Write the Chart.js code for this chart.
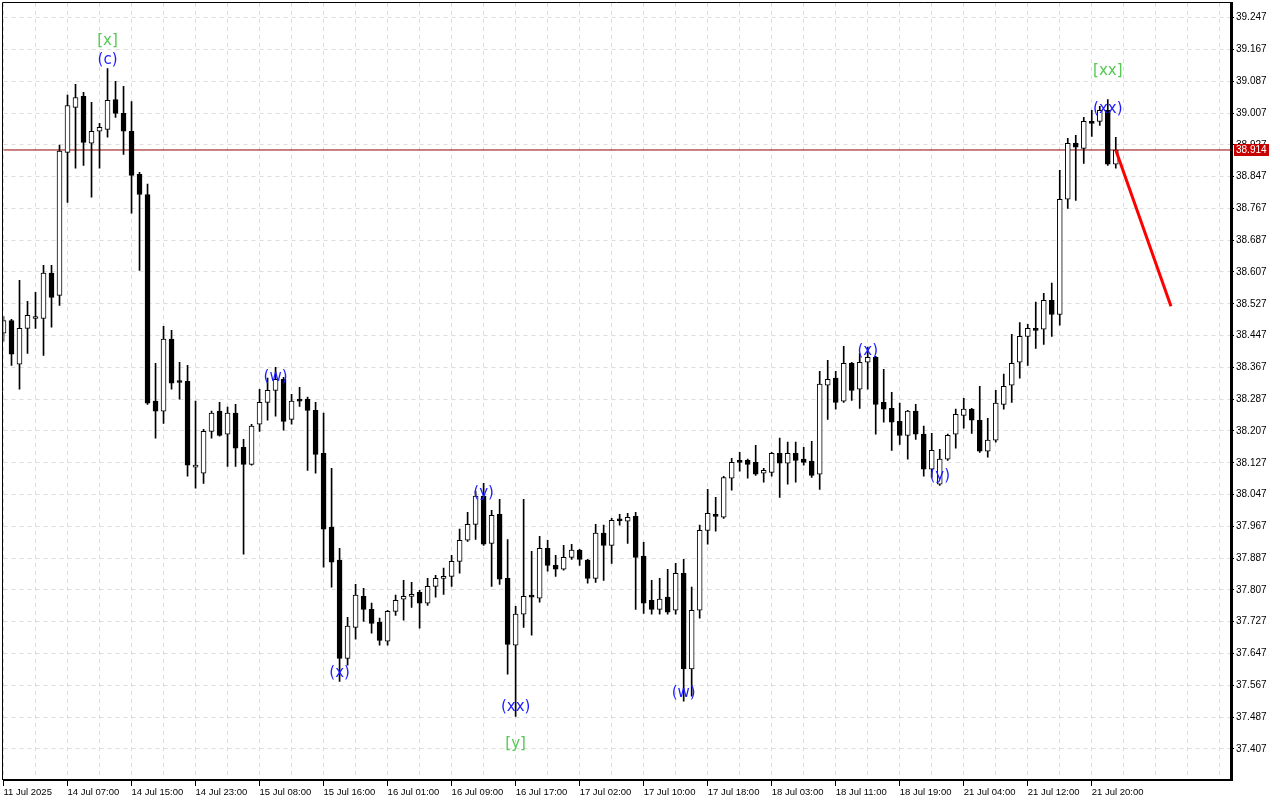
<!DOCTYPE html>
<html><head><meta charset="utf-8">
<script src="https://cdn.jsdelivr.net/npm/chart.js@4.4.1/dist/chart.umd.min.js"></script>
<style>html,body{margin:0;padding:0;background:#fff;overflow:hidden}canvas{display:block}</style>
</head><body>
<canvas id="c" width="1280" height="800"></canvas>
<script>
const opens = [38.453,38.485,38.375,38.465,38.490,38.490,38.604,38.548,38.908,39.021,39.049,38.931,38.961,38.966,39.041,39.006,38.961,38.853,38.802,38.282,38.257,38.438,38.330,38.332,38.116,38.101,38.206,38.257,38.199,38.252,38.166,38.123,38.224,38.279,38.309,38.337,38.236,38.287,38.287,38.259,38.151,37.965,37.882,37.635,37.713,37.791,37.758,37.726,37.678,37.753,37.784,37.791,37.801,37.774,37.816,37.836,37.841,37.879,37.932,37.972,38.043,37.924,37.997,37.836,37.668,37.746,37.791,37.786,37.912,37.869,37.859,37.889,37.907,37.882,37.836,37.950,37.919,37.982,37.980,37.992,37.892,37.781,37.758,37.789,37.756,37.849,37.608,37.756,37.957,37.997,37.990,38.088,38.131,38.133,38.128,38.101,38.103,38.151,38.126,38.151,38.136,38.131,38.098,38.322,38.340,38.282,38.377,38.312,38.380,38.392,38.279,38.264,38.231,38.196,38.257,38.199,38.111,38.073,38.136,38.199,38.246,38.262,38.234,38.156,38.184,38.274,38.322,38.380,38.445,38.465,38.463,38.536,38.500,38.790,38.931,38.918,38.984,38.986,39.014,38.878];
const highs = [38.495,38.488,38.586,38.533,38.556,38.624,38.624,38.926,39.052,39.079,39.059,39.034,38.981,39.119,39.087,39.074,39.036,38.858,38.828,38.377,38.470,38.460,38.380,38.372,38.282,38.211,38.257,38.279,38.267,38.274,38.186,38.224,38.312,38.340,38.367,38.342,38.299,38.317,38.292,38.279,38.252,38.113,37.912,37.738,37.821,37.811,37.774,37.736,37.756,37.794,37.831,37.826,37.806,37.836,37.844,37.862,37.894,37.960,38.002,38.055,38.075,38.007,38.035,37.934,37.766,38.035,37.904,37.942,37.932,37.894,37.919,37.922,37.909,37.884,37.972,37.970,37.987,37.997,38.000,38.002,37.927,37.831,37.836,37.859,37.874,37.884,37.814,37.970,38.060,38.040,38.093,38.138,38.153,38.136,38.171,38.113,38.153,38.189,38.179,38.179,38.166,38.181,38.357,38.385,38.357,38.420,38.380,38.402,38.418,38.395,38.362,38.304,38.277,38.259,38.274,38.219,38.201,38.161,38.199,38.262,38.289,38.264,38.319,38.239,38.309,38.350,38.450,38.480,38.475,38.531,38.553,38.579,38.863,38.943,38.951,38.996,39.014,39.024,39.041,38.946];
const lows = [38.433,38.372,38.312,38.402,38.465,38.397,38.468,38.523,38.782,38.868,38.875,38.795,38.868,38.946,38.996,38.903,38.755,38.611,38.274,38.189,38.226,38.312,38.287,38.093,38.063,38.075,38.189,38.194,38.118,38.118,37.897,38.121,38.206,38.234,38.244,38.209,38.224,38.269,38.108,38.101,37.864,37.814,37.577,37.618,37.683,37.728,37.698,37.668,37.668,37.743,37.731,37.763,37.711,37.768,37.789,37.796,37.816,37.849,37.929,37.934,37.919,37.816,37.821,37.595,37.489,37.713,37.693,37.776,37.854,37.841,37.857,37.884,37.869,37.824,37.826,37.831,37.874,37.970,37.924,37.758,37.748,37.746,37.746,37.746,37.746,37.527,37.540,37.736,37.922,37.955,37.987,38.058,38.106,38.088,38.095,38.078,38.093,38.040,38.073,38.078,38.121,38.090,38.060,38.236,38.262,38.279,38.284,38.264,38.312,38.199,38.229,38.158,38.173,38.136,38.186,38.093,38.090,38.070,38.133,38.164,38.214,38.201,38.153,38.141,38.179,38.262,38.279,38.340,38.372,38.415,38.425,38.445,38.473,38.767,38.787,38.880,38.948,38.976,38.875,38.868];
const closes = [38.485,38.400,38.465,38.498,38.493,38.604,38.543,38.911,39.026,39.046,38.933,38.961,38.971,39.039,39.006,38.961,38.850,38.802,38.277,38.257,38.438,38.327,38.329,38.121,38.118,38.206,38.252,38.196,38.252,38.164,38.123,38.219,38.279,38.309,38.337,38.231,38.282,38.282,38.259,38.148,37.960,37.877,37.635,37.716,37.794,37.758,37.723,37.680,37.753,37.781,37.791,37.796,37.774,37.816,37.836,37.841,37.879,37.932,37.972,38.043,37.922,37.995,37.834,37.670,37.746,37.791,37.789,37.912,37.869,37.859,37.889,37.907,37.884,37.836,37.950,37.919,37.982,37.981,37.990,37.889,37.774,37.758,37.784,37.751,37.849,37.608,37.756,37.957,38.000,37.992,38.090,38.128,38.128,38.123,38.098,38.108,38.151,38.126,38.151,38.133,38.128,38.095,38.325,38.337,38.279,38.377,38.309,38.380,38.392,38.274,38.262,38.229,38.196,38.257,38.199,38.111,38.158,38.136,38.196,38.249,38.262,38.234,38.156,38.184,38.277,38.319,38.377,38.445,38.465,38.460,38.536,38.500,38.790,38.931,38.921,38.986,38.981,39.014,38.878,38.914];

const yTicks = [37.407,37.487,37.567,37.647,37.727,37.807,37.887,37.967,38.047,38.127,38.207,38.287,38.367,38.447,38.527,38.607,38.687,38.767,38.847,38.927,39.007,39.087,39.167,39.247];
const timeLabels = ['11 Jul 2025','14 Jul 07:00','14 Jul 15:00','14 Jul 23:00','15 Jul 08:00','15 Jul 16:00','16 Jul 01:00','16 Jul 09:00','16 Jul 17:00','17 Jul 02:00','17 Jul 10:00','17 Jul 18:00','18 Jul 03:00','18 Jul 11:00','18 Jul 19:00','21 Jul 04:00','21 Jul 12:00','21 Jul 20:00'];
const timeLabelBars = [0,8,16,24,32,40,48,56,64,72,80,88,96,104,112,120,128,136];

const currentPrice = 38.914;
const forecastBars = [139, 145.9];
const forecastPrices = [38.914, 38.521];

const waveTexts = ['[x]','(c)','(w)','(x)','(y)','(xx)','[y]','(w)','(x)','(y)','[xx]','(xx)'];
const waveBars = [13,13,34,42,60,64,64,85,108,117,138,138];
const wavePrices = [39.187,39.140,38.342,37.597,38.050,37.512,37.419,37.547,38.407,38.093,39.112,39.016];

const X_MIN = 0, X_MAX = 153.4, Y_MIN = 37.3288, Y_MAX = 39.2838;

const idx = opens.map((_, i) => i);
const wickData = idx.map(i => ({x: i, y: [lows[i], highs[i]]}));
const bodyData = idx.map(i => ({x: i, y: [opens[i], closes[i]]}));
const priceLineData = [{x: X_MIN, y: currentPrice}, {x: X_MAX, y: currentPrice}];
const forecastData = forecastBars.map((b, k) => ({x: b, y: forecastPrices[k]}));

const GRID = '#dcdcdc';

const framePlugin = {
  id: 'frame',
  afterDraw(chart) {
    const {ctx, chartArea: a} = chart;
    ctx.save();
    ctx.strokeStyle = '#000';
    ctx.lineWidth = 1;
    ctx.beginPath();
    const lx = Math.floor(a.left) - 0.5;
    const ty = Math.floor(a.top) - 0.5;
    ctx.moveTo(lx, a.bottom); ctx.lineTo(lx, ty); ctx.lineTo(a.right, ty);
    ctx.stroke();
    ctx.restore();
  }
};

const wavePlugin = {
  id: 'waves',
  afterDatasetsDraw(chart) {
    const {ctx, scales: {x, y}} = chart;
    ctx.save();
    ctx.font = '15px "DejaVu Sans"';
    ctx.textAlign = 'center';
    ctx.textBaseline = 'middle';
    waveTexts.forEach((t, k) => {
      ctx.fillStyle = t[0] === '[' ? '#55c855' : '#1c1cff';
      ctx.fillText(t, x.getPixelForValue(waveBars[k]), y.getPixelForValue(wavePrices[k]));
    });
    ctx.restore();
  }
};

const priceTagPlugin = {
  id: 'priceTag',
  afterDraw(chart) {
    const {ctx, scales: {y}} = chart;
    const py = Math.round(y.getPixelForValue(currentPrice));
    ctx.save();
    ctx.fillStyle = '#c80000';
    ctx.fillRect(y.left + 3, py - 6, 35, 12);
    ctx.fillStyle = '#fff';
    ctx.font = '10px "Liberation Sans"';
    ctx.textAlign = 'left';
    ctx.textBaseline = 'middle';
    ctx.fillText(currentPrice.toFixed(3), y.left + 5, py + 0.5);
    ctx.restore();
  }
};

new Chart(document.getElementById('c'), {
  type: 'bar',
  data: {
    datasets: [
      {type: 'line', data: forecastData, borderColor: '#ff0000', borderWidth: 3, pointRadius: 0, order: 0},
      {type: 'bar', data: bodyData, backgroundColor: ctx => closes[ctx.dataIndex] >= opens[ctx.dataIndex] ? '#ffffff' : '#000000',
        borderColor: '#000', borderWidth: 1, borderSkipped: false, barThickness: 5, minBarLength: 2, grouped: false, order: 1},
      {type: 'bar', data: wickData, backgroundColor: '#000', borderWidth: 0, barThickness: 1, grouped: false, order: 2},
      {type: 'line', data: priceLineData, borderColor: 'rgb(150,0,0)', borderWidth: 1, pointRadius: 0, order: 3}
    ]
  },
  options: {
    responsive: false,
    animation: false,
    events: [],
    layout: {padding: {left: 3.5, top: 3, right: 0, bottom: 0}},
    plugins: {legend: {display: false}, tooltip: {enabled: false}},
    scales: {
      x: {
        type: 'linear', position: 'bottom', min: X_MIN, max: X_MAX, offset: false,
        afterBuildTicks: s => { s.ticks = []; for (let v = 0; v <= 152; v += 4) s.ticks.push({value: v}); },
        afterFit: s => { s.height = 20; s.paddingLeft = 0; s.paddingRight = 0; },
        grid: {offset: false, color: GRID, lineWidth: 1, drawTicks: true, tickLength: 6, tickWidth: 1,
          tickColor: ctx => (ctx.tick && timeLabelBars.includes(ctx.tick.value)) ? '#000' : 'rgba(0,0,0,0)'},
        border: {display: true, color: '#000', width: 2, dash: [4, 4]},
        ticks: {autoSkip: false, maxRotation: 0, minRotation: 0, align: 'start', padding: 1, color: '#000',
          font: {family: 'Liberation Sans', size: 9.5},
          callback: v => { const k = timeLabelBars.indexOf(v); return k >= 0 ? timeLabels[k] : ''; }}
      },
      y: {
        type: 'linear', position: 'right', min: Y_MIN, max: Y_MAX, beginAtZero: false,
        afterBuildTicks: s => { s.ticks = yTicks.map(v => ({value: v})); },
        afterFit: s => { s.width = 49; s.paddingTop = 0; s.paddingBottom = 0; },
        grid: {color: GRID, lineWidth: 1, drawTicks: true, tickLength: 3, tickColor: '#000', tickWidth: 1},
        border: {display: true, color: '#000', width: 3, dash: [4, 4]},
        ticks: {padding: 2, color: '#000', font: {family: 'Liberation Sans', size: 10},
          callback: v => Number(v).toFixed(3)}
      }
    }
  },
  plugins: [framePlugin, wavePlugin, priceTagPlugin]
});
</script>
</body></html>
